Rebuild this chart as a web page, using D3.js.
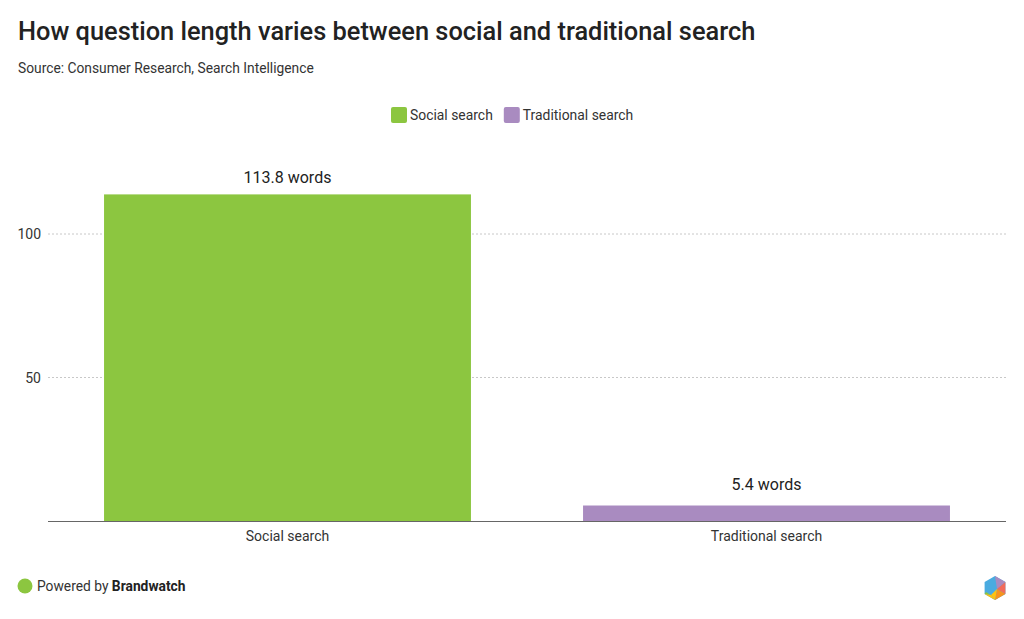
<!DOCTYPE html>
<html>
<head>
<meta charset="utf-8">
<script src="https://cdn.jsdelivr.net/npm/d3@7"></script>
<style>
  html, body { margin: 0; padding: 0; background: #fff; }
  svg { display: block; font-family: Roboto, "Noto Sans", sans-serif; }
</style>
</head>
<body>
<svg id="chart" width="1024" height="619"></svg>
<script>
const categories = ["Social search", "Traditional search"];
const values = [113.8, 5.4];
const valueLabels = ["113.8 words", "5.4 words"];
const colors = ["#8cc640", "#a98bc0"];
const yTicks = [50, 100];

const svg = d3.select("#chart");
const plot = { left: 48, right: 1006, top: 140, bottom: 521 };

// Title & subtitle
svg.append("text").attr("x", 18).attr("y", 40)
  .attr("font-size", 25.4).attr("font-weight", 500).attr("fill", "#222")
  .text("How question length varies between social and traditional search");
svg.append("text").attr("x", 18).attr("y", 73)
  .attr("font-size", 13.8).attr("fill", "#333")
  .text("Source: Consumer Research, Search Intelligence");

// Legend
const legend = svg.append("g");
let lx = 391;
categories.forEach((c, i) => {
  const g = legend.append("g").attr("transform", `translate(${lx},107)`);
  g.append("rect").attr("width", 16).attr("height", 16).attr("rx", 2).attr("fill", colors[i]);
  const t = g.append("text").attr("x", 19).attr("y", 13).attr("font-size", 13.9).attr("fill", "#333").text(c);
  lx += 19 + t.node().getComputedTextLength() + 11;
});

// Scales
const x = d3.scaleBand().domain(categories).range([plot.left, plot.right])
  .paddingInner(0.234).paddingOuter(0.117);
const y = d3.scaleLinear().domain([0, 100]).range([plot.bottom, 234]);

// Gridlines
svg.append("g").selectAll("line").data(yTicks).join("line")
  .attr("x1", plot.left).attr("x2", plot.right)
  .attr("y1", d => y(d)).attr("y2", d => y(d))
  .attr("stroke", "#c8c8c8").attr("stroke-width", 1).attr("stroke-dasharray", "2,2");

// Y tick labels
svg.append("g").selectAll("text").data(yTicks).join("text")
  .attr("x", 41).attr("y", d => y(d) + 5)
  .attr("text-anchor", "end").attr("font-size", 14).attr("fill", "#333")
  .text(d => d);

// Bars
svg.append("g").selectAll("rect").data(values).join("rect")
  .attr("x", (d, i) => x(categories[i]))
  .attr("width", x.bandwidth())
  .attr("y", d => y(d))
  .attr("height", d => y(0) - y(d))
  .attr("fill", (d, i) => colors[i]);

// Value labels
svg.append("g").selectAll("text").data(values).join("text")
  .attr("x", (d, i) => x(categories[i]) + x.bandwidth() / 2)
  .attr("y", d => Math.min(y(d) - 11, y(0) - 31))
  .attr("text-anchor", "middle").attr("font-size", 16).attr("fill", "#222")
  .text((d, i) => valueLabels[i]);

// Baseline
svg.append("line").attr("x1", plot.left).attr("x2", plot.right)
  .attr("y1", y(0) + 0.5).attr("y2", y(0) + 0.5)
  .attr("stroke", "#666").attr("stroke-width", 1);

// X labels
svg.append("g").selectAll("text").data(categories).join("text")
  .attr("x", d => x(d) + x.bandwidth() / 2)
  .attr("y", 541)
  .attr("text-anchor", "middle").attr("font-size", 14).attr("fill", "#333")
  .text(d => d);

// Footer
svg.append("circle").attr("cx", 25).attr("cy", 586).attr("r", 7.5).attr("fill", "#8cc640");
const ft = svg.append("text").attr("x", 37).attr("y", 591).attr("font-size", 13.8).attr("fill", "#333");
ft.append("tspan").text("Powered by ");
ft.append("tspan").attr("font-weight", 700).attr("fill", "#222").text("Brandwatch");

// Logo hexagon
const cx = 995, cy = 588, r = 12;
const hex = d3.range(6).map(k => {
  const a = Math.PI / 180 * (60 * k - 90);
  return [cx + r * Math.cos(a), cy + r * Math.sin(a)];
});
const ctr = [cx + 2, cy + 1];
const logo = svg.append("g");
logo.append("path").attr("d", d3.line()(hex) + "Z").attr("fill", "#4aabe0");
logo.append("path").attr("d", d3.line()([hex[0], hex[1], ctr]) + "Z").attr("fill", "#a98bc0");
logo.append("path").attr("d", d3.line()([hex[1], hex[2], ctr]) + "Z").attr("fill", "#f26b5b");
logo.append("path").attr("d", d3.line()([hex[2], hex[3], ctr]) + "Z").attr("fill", "#f7931e");
logo.append("path").attr("d", d3.line()([hex[3], [cx - 4, cy + 7], ctr]) + "Z").attr("fill", "#ffc20e");
logo.append("path").attr("d", d3.line()([hex[4], [cx - 4, cy + 7], [cx - 9, cy + 4]]) + "Z").attr("fill", "#8cc640");
logo.append("path").attr("d", d3.line()([hex[3], hex[4], [cx - 4, cy + 7]]) + "Z").attr("fill", "#ffc20e");
</script>
</body>
</html>
